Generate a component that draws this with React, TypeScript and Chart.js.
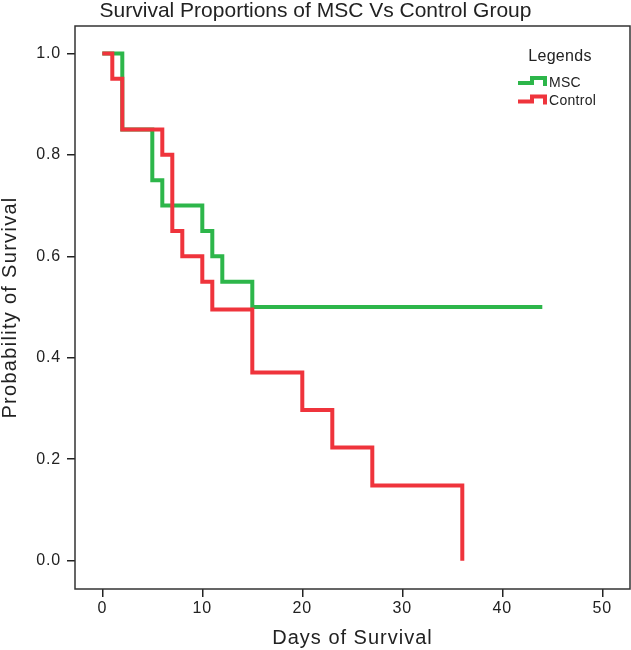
import { useEffect, useRef } from "react";
import { Chart, registerables } from "chart.js";

Chart.register(...registerables);

// Kaplan-Meier steps (day, proportion surviving)
const MSC_DAYS = [0, 2, 5, 6, 10, 11, 12, 15, 44];
const MSC_SURV = [1.0, 0.85, 0.75, 0.7, 0.65, 0.6, 0.55, 0.5, 0.5];

const CTRL_DAYS = [0, 1, 2, 6, 7, 8, 10, 11, 15, 20, 23, 27, 36];
const CTRL_SURV = [1.0, 0.95, 0.85, 0.8, 0.65, 0.6, 0.55, 0.495, 0.371, 0.297, 0.223, 0.148, 0.0];

const X_TICKS = [0, 10, 20, 30, 40, 50];
const Y_TICKS = [0, 0.2, 0.4, 0.6, 0.8, 1.0];

const GREEN = "#2db64a";
const RED = "#ef343c";
const INK = "#222222";
const FONT = "'Liberation Sans', Arial, sans-serif";

const toPoints = (xs: number[], ys: number[]) => xs.map((x, i) => ({ x, y: ys[i] }));

// the reference type is a little wider than Liberation Sans, so open it up a bit
const spacingPlugin = {
  id: "spacing",
  beforeDraw(chart: Chart) {
    (chart.ctx as any).letterSpacing = "0.8px";
  },
};

// ─── frame, titles and the step-shaped legend ────────────────────
const decorPlugin = {
  id: "kmDecor",
  afterDraw(chart: Chart) {
    const { ctx, chartArea: a, width } = chart;
    ctx.save();

    ctx.strokeStyle = "#333";
    ctx.lineWidth = 1.5;
    ctx.strokeRect(a.left, a.top, a.right - a.left, a.bottom - a.top);

    ctx.fillStyle = INK;
    ctx.textAlign = "center";
    ctx.textBaseline = "middle";
    (ctx as any).letterSpacing = "0px";
    ctx.font = `21px ${FONT}`;
    ctx.fillText("Survival Proportions of MSC Vs Control Group", width / 2, 11.5);

    (ctx as any).letterSpacing = "1px";
    ctx.font = `20px ${FONT}`;
    ctx.fillText("Days of Survival", (a.left + a.right) / 2, 638);
    ctx.save();
    ctx.translate(10, (a.top + a.bottom) / 2);
    ctx.rotate(-Math.PI / 2);
    (ctx as any).letterSpacing = "1.3px";
    ctx.fillText("Probability of Survival", 0, 0);
    ctx.restore();

    (ctx as any).letterSpacing = "0.3px";
    ctx.font = `16px ${FONT}`;
    ctx.fillText("Legends", 560, 57);

    const items = [
      { label: "MSC", color: GREEN, y: 83 },
      { label: "Control", color: RED, y: 101.5 },
    ];
    ctx.font = `14px ${FONT}`;
    ctx.textAlign = "left";
    items.forEach((it) => {
      ctx.strokeStyle = it.color;
      ctx.lineWidth = 4;
      ctx.lineJoin = "miter";
      ctx.beginPath();
      ctx.moveTo(518, it.y);
      ctx.lineTo(532, it.y);
      ctx.lineTo(532, it.y - 5);
      ctx.lineTo(545, it.y - 5);
      ctx.lineTo(545, it.y + 3);
      ctx.stroke();
      ctx.fillStyle = INK;
      ctx.fillText(it.label, 549, it.y);
    });

    ctx.restore();
  },
};

export default function App() {
  const canvasRef = useRef<HTMLCanvasElement>(null);

  useEffect(() => {
    document.body.style.margin = "0";
    if (!canvasRef.current) return;

    const chart = new Chart(canvasRef.current, {
      type: "line",
      plugins: [spacingPlugin, decorPlugin],
      data: {
        datasets: [
          {
            label: "MSC",
            data: toPoints(MSC_DAYS, MSC_SURV),
            borderColor: GREEN,
            borderWidth: 4,
            stepped: true,
            pointRadius: 0,
            fill: false,
            borderCapStyle: "butt",
            borderJoinStyle: "miter",
            order: 1,
          },
          {
            label: "Control",
            data: toPoints(CTRL_DAYS, CTRL_SURV),
            borderColor: RED,
            borderWidth: 4,
            stepped: true,
            pointRadius: 0,
            fill: false,
            borderCapStyle: "butt",
            borderJoinStyle: "miter",
            order: 0,
          },
        ],
      },
      options: {
        responsive: true,
        maintainAspectRatio: false,
        animation: false,
        layout: { padding: { top: 26, right: 1, left: 0, bottom: 0 } },
        plugins: {
          legend: { display: false },
          tooltip: { enabled: false },
        },
        scales: {
          x: {
            type: "linear",
            min: -2.73,
            max: 52.77,
            afterFit: (s) => {
              s.height = 61;
            },
            afterBuildTicks: (s) => {
              s.ticks = X_TICKS.map((value) => ({ value }));
            },
            border: { display: false },
            grid: {
              drawOnChartArea: false,
              drawTicks: true,
              tickLength: 8,
              color: INK,
              lineWidth: 1.5,
            },
            ticks: {
              font: { family: FONT, size: 16 },
              color: INK,
              padding: 2,
              maxRotation: 0,
            },
          },
          y: {
            type: "linear",
            min: -0.0558,
            max: 1.054,
            afterFit: (s) => {
              s.width = 75;
            },
            afterBuildTicks: (s) => {
              s.ticks = Y_TICKS.map((value) => ({ value }));
            },
            border: { display: false },
            grid: {
              drawOnChartArea: false,
              drawTicks: true,
              tickLength: 8,
              color: INK,
              lineWidth: 1.5,
            },
            ticks: {
              font: { family: FONT, size: 16 },
              color: INK,
              padding: 6,
              callback: (v) => Number(v).toFixed(1),
            },
          },
        },
      },
    });

    return () => chart.destroy();
  }, []);

  return (
    <div style={{ width: 631, height: 650, position: "relative" }}>
      <canvas ref={canvasRef} />
    </div>
  );
}
